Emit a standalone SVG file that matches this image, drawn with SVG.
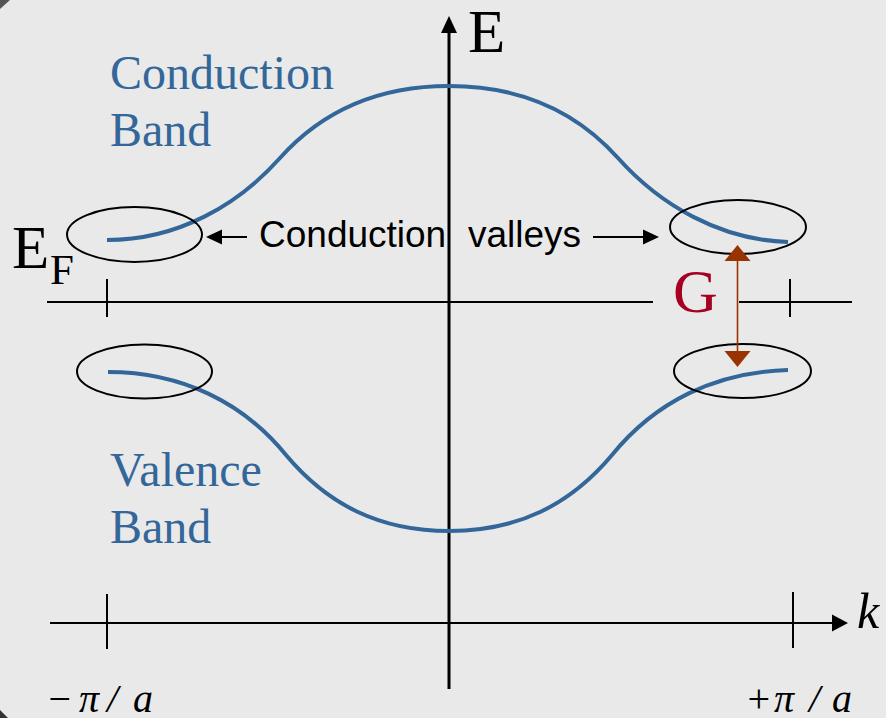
<svg xmlns="http://www.w3.org/2000/svg" width="886" height="718" viewBox="0 0 886 718">
<defs>
<style>
.band{fill:none;stroke:#336699;stroke-width:4;stroke-linecap:butt}
.ell{fill:none;stroke:#000;stroke-width:2}
.ax{stroke:#000;stroke-width:2;fill:none}
.serif{font-family:"Liberation Serif","Times New Roman",serif}
.blue{fill:#336699;font-size:48px}
.sans{font-family:"Liberation Sans",Arial,sans-serif;font-size:37px;fill:#000}
</style>
</defs>
<rect x="0" y="0" width="886" height="718" fill="#e9e9e9"/>
<polygon points="0,0 10,0 0,9" fill="#555"/>
<polygon points="0,710 8,718 0,718" fill="#333"/>

<g id="axes">
<line class="ax" x1="47" y1="302" x2="653" y2="302"/>
<line class="ax" x1="739" y1="302" x2="852" y2="302"/>
<line class="ax" x1="107" y1="279" x2="107" y2="317"/>
<line class="ax" x1="790" y1="279" x2="790" y2="317"/>
<line class="ax" x1="50" y1="623" x2="834" y2="623"/>
<path d="M848,623 L832,614.5 L832,631.5 z" fill="#000"/>
<line class="ax" x1="107" y1="594" x2="107" y2="649"/>
<line class="ax" x1="793" y1="592" x2="793" y2="648"/>
<line x1="449" y1="689" x2="449" y2="30" stroke="#000" stroke-width="3"/>
<path d="M449,16 L441,33 L457,33 z" fill="#000"/>
</g>

<g id="conduction-band">
<path class="band" d="M107,240 C178,240 238,205 280,158 C323,110 378,86 449,86 C520,86 575,110 618,158 C660,205 720,240 788,242"/>
</g>
<g id="valence-band">
<path class="band" d="M108,372 C181,372 243,402 286,455 C328,505 380,531 449,531 C518,531 570,505 612,455 C655,402 715,372 788,370"/>
</g>

<g id="valleys">
<ellipse class="ell" cx="134.5" cy="234.5" rx="67.5" ry="27.5"/>
<ellipse class="ell" cx="738" cy="227" rx="68" ry="27"/>
<ellipse class="ell" cx="742.5" cy="371" rx="68.5" ry="27"/>
<ellipse class="ell" cx="144.5" cy="371.5" rx="67.5" ry="27"/>
</g>

<g id="labels">
<text class="serif" x="468" y="52" font-size="61" fill="#000">E</text>
<text class="serif" x="12" y="268" font-size="61" fill="#000">E</text>
<text class="serif" x="50" y="284" font-size="43" fill="#000">F</text>
<text class="serif" x="673" y="312" font-size="62" fill="#a50021">G</text>
<text class="serif blue" x="110" y="89">Conduction</text>
<text class="serif blue" x="110" y="146">Band</text>
<text class="serif blue" x="110" y="486">Valence</text>
<text class="serif blue" x="110" y="543">Band</text>
<text class="sans" y="247"><tspan x="259">Conduction</tspan><tspan x="468">valleys</tspan></text>
<text class="serif" x="857" y="628" font-size="50" font-style="italic" fill="#000">k</text>
<text class="serif" y="712" font-size="40" font-style="italic" fill="#000" x="46 70 79 100 107 120 133">− π / a</text>
<text class="serif" y="712" font-size="40" font-style="italic" fill="#000" x="745 769 774 797 809 822 832">+ π / a</text>
</g>

<g id="connectors">
<line x1="247" y1="237" x2="210" y2="237" stroke="#000" stroke-width="2"/>
<path d="M206,237 L222,229.5 L222,244.5 z" fill="#000"/>
<line x1="593" y1="237" x2="648" y2="237" stroke="#000" stroke-width="2"/>
<path d="M659,237 L643,229.5 L643,244.5 z" fill="#000"/>
<line x1="737.5" y1="258" x2="737.5" y2="354" stroke="#993300" stroke-width="1.6"/>
<path d="M737.5,245 L724.5,261 L750.5,261 z" fill="#993300"/>
<path d="M737.5,367 L724.5,351 L750.5,351 z" fill="#993300"/>
</g>
</svg>
